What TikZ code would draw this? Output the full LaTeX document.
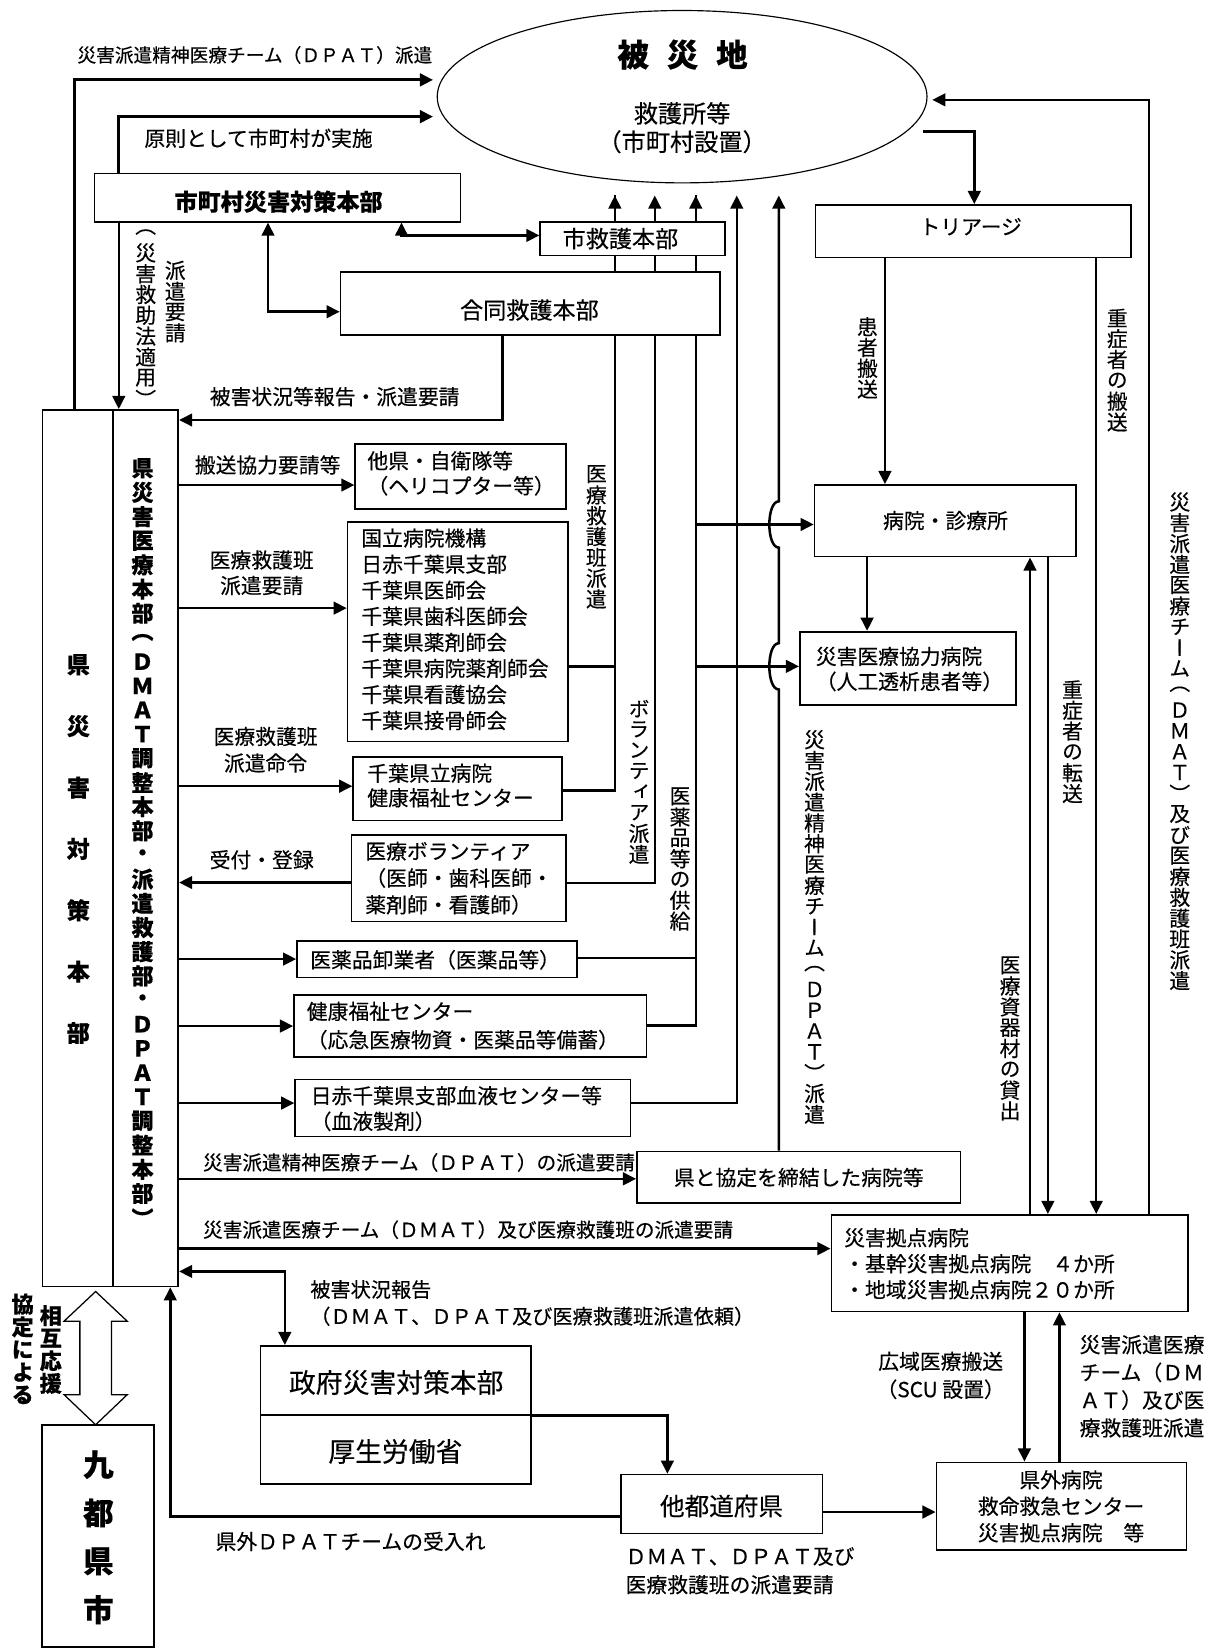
\documentclass[tikz,border=0pt]{standalone}
\usepackage{fontspec}
\setmainfont[FakeBold=0.3]{Noto Sans CJK JP}
\newfontfamily\vfont[RawFeature=+vert,FakeBold=0.3]{Noto Sans CJK JP}
\usetikzlibrary{arrows.meta,shapes.geometric}
\pgfdeclarelayer{bg}
\pgfdeclarelayer{paper}
\pgfsetlayers{paper,bg,main}
\newcommand\myfs[2]{\fontsize{#1pt}{#2pt}\selectfont}
\ExplSyntaxOn
\NewDocumentCommand\vt{O{19.8pt}m}
 {
  \vbox:n
   {
    \offinterlineskip
    \tl_map_inline:nn {#2}
     { \hbox_to_wd:nn {1em} { \hss \vbox_to_ht:nn {#1} { \vss \hbox:n {##1} \vss } \hss } }
   }
 }
\ExplSyntaxOff
\tikzset{sz/.style 2 args={minimum width=#1pt,minimum height=#2pt}}
\begin{document}
\begin{tikzpicture}[x=1pt,y=-1pt,
  con/.style={line width=2.4pt},
  arr/.style={con,-{Triangle[length=12.5pt,width=12pt]}},
  darr/.style={con,{Triangle[length=12.5pt,width=12pt]}-{Triangle[length=12.5pt,width=12pt]}},
  thick con/.style={line width=2.8pt},
  box/.style={draw,line width=1.6pt,fill=white,inner sep=0pt},
  lab/.style={inner sep=0pt,font=\myfs{19.8}{24.6}},
  vlab/.style={inner sep=0pt,font=\vfont\myfs{19.8}{20}},
]
\useasboundingbox (0,0) rectangle (1152,1568);
\begin{pgfonlayer}{paper}
\fill[white] (0,0) rectangle (1152,1568);
\end{pgfonlayer}

% ---------- shapes ----------
\node[draw,ellipse,line width=1.1pt,fill=white,inner sep=0pt,sz={466}{164}] (hisaichi) at (649,92) {};
\node[box,sz={348}{46}] (murahq) at (264,188) {};
\node[box,sz={176}{32}] (shikyugo) at (602,227) {};
\node[box,sz={361}{60.4}] (godo) at (504.5,288.8) {};
\node[box,sz={300}{50}] (triage) at (926,220) {};
\node[box,sz={249}{68.2}] (byoin) at (899.5,495.5) {};
\node[box,sz={205.5}{69.7}] (kyoryoku) at (863.75,635.85) {};
\node[box,sz={67.4}{834}] (kenL) at (74.1,807) {};
\node[box,sz={61.8}{834}] (kenR) at (138.7,807) {};
\node[box,sz={200.6}{61.5}] (tahoken) at (438.3,453.25) {};
\node[box,sz={209.7}{208.7}] (kokuritsu) at (435.55,601.15) {};
\node[box,sz={198.4}{60.7}] (kenritsu) at (435.2,750.35) {};
\node[box,sz={203.7}{82.4}] (volunteer) at (436.35,835.6) {};
\node[box,sz={266.1}{35}] (oroshi) at (415.65,912.5) {};
\node[box,sz={335.3}{59.5}] (kenkou) at (447.35,976.25) {};
\node[box,sz={319.2}{54.3}] (nisseki) at (440.4,1054.15) {};
\node[box,sz={308}{49.1}] (kyotei) at (760,1120.15) {};
\node[box,sz={339}{92}] (kyoten) at (960.5,1201.8) {};
\node[box,sz={257.4}{65.5}] (seifu) at (376.7,1313.25) {};
\node[box,sz={257.4}{65.7}] (kosei) at (376.7,1378.85) {};
\node[box,sz={106.8}{211.4}] (kyuto) at (93.4,1461.3) {};
\node[box,sz={191.6}{56}] (tato) at (686.8,1431) {};
\node[box,sz={238}{83.1}] (kengai) at (1010,1432.95) {};

% mutual support hollow double arrow
\draw[line width=1.2pt,fill=white] (91,1228.8) -- (121,1257) -- (106,1257) -- (106,1327)
  -- (121,1327) -- (91,1355.6) -- (61,1327) -- (76,1327) -- (76,1257) -- (61,1257) -- cycle;

% ---------- free ends ----------
\coordinate (hwA) at (412,76);
\coordinate (hwB) at (412,111);
\coordinate (heA) at (887,95);
\coordinate (heB) at (878,125);
\coordinate (u1) at (585,186);
\coordinate (u2) at (623,186);
\coordinate (u3) at (662,186);
\coordinate (u4) at (701,186);
\coordinate (u5) at (741,186);

% ---------- connectors ----------
\begin{pgfonlayer}{bg}
\draw[arr,thick con] (kenL.north -| 71,0) |- (hwA);
\draw[arr,thick con] (murahq.north -| 113,0) |- (hwB);
\draw[arr] (murahq.south -| 113,0) -- (kenR.north -| 113,0);
\draw[darr] (murahq.south -| 382,0) |- (shikyugo.west |- 0,224);
\draw[darr] (murahq.south -| 255,0) |- (godo.west |- 0,296.6);
\draw[arr] (godo.south -| 478,0) |- (kenR.east |- 0,399.6);

\draw[arr] (kenritsu.east |- 0,752) -| (u1);
\draw[con] (kokuritsu.east |- 0,634) -| (u1);
\draw[arr] (volunteer.east |- 0,840) -| (u2);
\draw[arr] (kenkou.east |- 0,975.7) -| (u3);
\draw[con] (oroshi.east |- 0,911.5) -| (u3);
\draw[arr] (nisseki.east |- 0,1049.5) -| (u4);
\draw[arr] (kyotei.north -| u5) -- (741,656) .. controls (729,656) and (729,612) .. (741,612)
  -- (741,521) .. controls (729,521) and (729,477) .. (741,477) -- (u5);
\draw[arr] (u3 |- 0,499) -- (byoin.west |- 0,499);
\draw[arr] (u3 |- 0,634) -- (kyoryoku.west |- 0,634);

\draw[arr] (heB) -| (triage.north -| 927,0);
\draw[arr] (triage.south -| 842,0) -- (byoin.north -| 842,0);
\draw[arr] (triage.south -| 1043,0) -- (kyoten.north -| 1043,0);
\draw[arr] (kyoten.north -| 1093,0) |- (heA);
\draw[arr] (byoin.south -| 825,0) -- (kyoryoku.north -| 825,0);
\draw[arr] (kyoten.north -| 980,0) -- (byoin.south -| 980,0);
\draw[arr] (byoin.south -| 997,0) -- (kyoten.north -| 997,0);

\draw[arr] (kenR.east |- 0,461.5) -- (tahoken.west |- 0,461.5);
\draw[arr] (kenR.east |- 0,578.6) -- (kokuritsu.west |- 0,578.6);
\draw[arr] (kenR.east |- 0,748) -- (kenritsu.west |- 0,748);
\draw[arr] (volunteer.west |- 0,839.7) -- (kenR.east |- 0,839.7);
\draw[arr] (kenR.east |- oroshi.west) -- (oroshi.west);
\draw[arr] (kenR.east |- kenkou.west) -- (kenkou.west);
\draw[arr] (kenR.east |- 0,1049.5) -- (nisseki.west |- 0,1049.5);
\draw[arr] (kenR.east |- 0,1121.6) -- (kyotei.west |- 0,1121.6);
\draw[arr] (kenR.east |- 0,1188) -- (kyoten.west |- 0,1188);
\draw[darr] (kenR.east |- 0,1209.7) -| (seifu.north -| 271,0);
\draw[arr] (seifu.south east) -| (tato.north -| 635,0);
\draw[arr] (tato.west |- 0,1443) -| (kenR.south -| 162,0);
\draw[arr] (tato.east |- 0,1438.6) -- (kengai.west |- 0,1438.6);
\draw[arr] (kyoten.south -| 974.7,0) -- (kengai.north -| 974.7,0);
\draw[arr] (kengai.north -| 1008,0) -- (kyoten.south -| 1008,0);
\end{pgfonlayer}

% ---------- texts ----------
\node[lab,font=\bfseries\myfs{30}{34}] (t-hisai) at (649.4,52) {被\hspace{17pt}災\hspace{17pt}地};
\node[lab,align=center,font=\myfs{23}{27}] (t-kyugo) at (649,121.5) {救護所等\\（市町村設置）};
\node[lab,font=\myfs{17.8}{20}] (t-dpat1) at (242.5,52.3) {災害派遣精神医療チーム（ＤＰＡＴ）派遣};
\node[lab] (t-gensoku) at (246,131.6) {原則として市町村が実施};
\node[lab,font=\bfseries\myfs{22}{26}] (t-murahq) at (265,191.9) {市町村災害対策本部};
\node[lab,font=\myfs{22}{26}] (t-shikyugo) at (590.3,227) {市救護本部};
\node[lab,font=\myfs{22}{26}] (t-godo) at (503.7,295) {合同救護本部};
\node[vlab] (t-kyujo) at (138.6,300) {\vt{（災害救助法適用）}};
\node[vlab] (t-hakenyosei) at (166.7,287) {\vt{派遣要請}};
\node[lab] (t-higai1) at (318.4,377.4) {被害状況等報告・派遣要請};
\node[lab] (t-triage) at (923.6,215.7) {トリアージ};
\node[vlab] (t-kanja) at (825.3,340.5) {\vt{患者搬送}};
\node[vlab] (t-jusho1) at (1063,352) {\vt{重症者の搬送}};
\node[vlab] (t-dmatv) at (1122.5,705.3) {\vt{災害派遣医療チーム（ＤＭＡＴ）及び医療救護班派遣}};
\node[lab] (t-byoin) at (899.6,495.3) {病院・診療所};
\node[lab,anchor=west,align=left,font=\myfs{19.8}{23.8}] (t-kyoryoku) at (776,636.6) {災害医療協力病院\\（人工透析患者等）};
\node[vlab] (t-jusho2) at (1020.4,705.5) {\vt{重症者の転送}};
\node[vlab] (t-shizai) at (961,987.7) {\vt{医療資器材の貸出}};
\node[vlab] (t-iryohaken) at (567.4,510.5) {\vt{医療救護班派遣}};
\node[vlab] (t-volhaken) at (608,743.5) {\vt{ボランティア派遣}};
\node[vlab] (t-kyokyu) at (647,817) {\vt{医薬品等の供給}};
\node[vlab] (t-dpatv) at (775,882) {\vt{災害派遣精神医療チーム（ＤＰＡＴ）派遣}};

\node[inner sep=0pt,font=\vfont\bfseries\myfs{22}{24}] (t-kenL) at (74.5,807.7) {\vt[58.4pt]{県災害対策本部}};
\node[inner sep=0pt,font=\vfont\bfseries\myfs{21}{23}] (t-kenR) at (135.6,802) {\vt[23pt]{県災害医療本部（ＤＭＡＴ調整本部・派遣救護部・ＤＰＡＴ調整本部）}};

\node[lab] (t-hanso) at (254.6,442.4) {搬送協力要請等};
\node[lab,align=center,font=\myfs{19.8}{24.3}] (t-yosei) at (249,545) {医療救護班\\派遣要請};
\node[lab,align=center,font=\myfs{19.8}{25.3}] (t-meirei) at (252.7,713.4) {医療救護班\\派遣命令};
\node[lab] (t-uketsuke) at (249,818) {受付・登録};
\node[lab,anchor=west,font=\myfs{18.7}{22}] (t-dpatreq) at (193,1106) {災害派遣精神医療チーム（ＤＰＡＴ）の派遣要請};
\node[lab,anchor=west,font=\myfs{18.7}{22}] (t-dmatreq) at (193,1170) {災害派遣医療チーム（ＤＭＡＴ）及び医療救護班の派遣要請};
\node[lab,anchor=west,align=left,font=\myfs{19.2}{25.5}] (t-higai2) at (295,1239.75) {被害状況報告\\（ＤＭＡＴ、ＤＰＡＴ及び医療救護班派遣依頼）};
\node[lab] (t-ukeire) at (333.5,1466.6) {県外ＤＰＡＴチームの受入れ};
\node[lab,anchor=west,align=left,font=\myfs{19.8}{27}] (t-tatoreq) at (595,1494.5) {ＤＭＡＴ、ＤＰＡＴ及び\\医療救護班の派遣要請};
\node[lab,align=center,font=\myfs{19.8}{26.6}] (t-koiki) at (895,1308.7) {広域医療搬送\\（SCU 設置）};
\node[lab,anchor=west,align=left,font=\myfs{19.8}{26.4}] (t-dmatkengai) at (1027,1319) {災害派遣医療\\チーム（ＤＭ\\ＡＴ）及び医\\療救護班派遣};
\node[inner sep=0pt,font=\vfont\bfseries\myfs{21}{22}] (t-sogo) at (48.3,1284) {\vt[21.5pt]{相互応援}};
\node[inner sep=0pt,font=\vfont\bfseries\myfs{21}{22}] (t-kyoteini) at (21.6,1284) {\vt[21.6pt]{協定による}};

\node[lab,anchor=west,align=left,font=\myfs{19.8}{23.8}] (t-tahoken) at (349.4,450.4) {他県・自衛隊等\\（ヘリコプター等）};
\node[lab,anchor=west,align=left,font=\myfs{19.8}{24.8}] (t-kokuritsu) at (343.6,598.8) {国立病院機構\\日赤千葉県支部\\千葉県医師会\\千葉県歯科医師会\\千葉県薬剤師会\\千葉県病院薬剤師会\\千葉県看護協会\\千葉県接骨師会};
\node[lab,anchor=west,align=left,font=\myfs{19.8}{23.3}] (t-kenritsu) at (349.3,747.4) {千葉県立病院\\健康福祉センター};
\node[lab,anchor=west,align=left,font=\myfs{19.8}{25.5}] (t-volunteer) at (347.4,835.5) {医療ボランティア\\（医師・歯科医師・\\薬剤師・看護師）};
\node[lab] (t-oroshi) at (414,913.2) {医薬品卸業者（医薬品等）};
\node[lab,anchor=west,align=left,font=\myfs{19.8}{27}] (t-kenkou) at (291.7,975.9) {健康福祉センター\\（応急医療物資・医薬品等備蓄）};
\node[lab,anchor=west,align=left,font=\myfs{19.8}{24.4}] (t-nisseki) at (295.4,1054.8) {日赤千葉県支部血液センター等\\（血液製剤）};
\node[lab] (t-kyotei) at (760,1120.3) {県と協定を締結した病院等};
\node[lab,anchor=west,align=left,font=\myfs{19.8}{24.7}] (t-kyoten) at (803,1202.4) {災害拠点病院\\・基幹災害拠点病院　４か所\\・地域災害拠点病院２０か所};
\node[lab,font=\myfs{25.5}{28}] (t-seifu) at (377,1315.3) {政府災害対策本部};
\node[lab,font=\myfs{25.5}{28}] (t-kosei) at (376.2,1381) {厚生労働省};
\node[inner sep=0pt,font=\vfont\bfseries\myfs{29}{32}] (t-kyuto) at (93.6,1462.6) {\vt[46pt]{九都県市}};
\node[lab,font=\myfs{23.4}{26}] (t-tato) at (686.5,1433) {他都道府県};
\node[lab,align=center,font=\myfs{19.8}{25.2}] (t-kengai) at (1009.5,1433.2) {県外病院\\救命救急センター\\災害拠点病院　等};
\end{tikzpicture}
\end{document}
